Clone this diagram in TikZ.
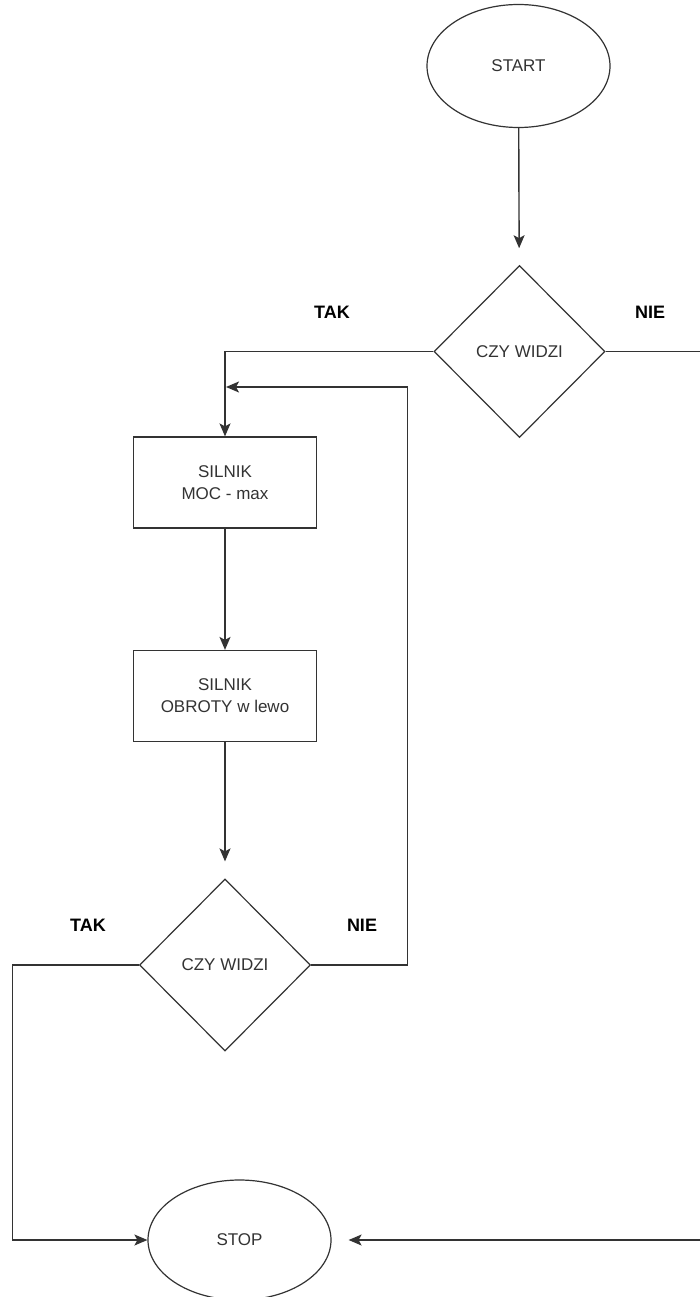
\documentclass[tikz,border=0pt]{standalone}
\usepackage{fontspec}
\setmainfont{Liberation Sans}
\usetikzlibrary{shapes.geometric,arrows.meta}
\definecolor{ink}{HTML}{333333}
\begin{document}
\begin{tikzpicture}[x=1pt,y=-1pt,
  every node/.style={font=\fontsize{17}{22}\selectfont, text=ink},
  term/.style={draw=ink, line width=1.2pt, ellipse, minimum width=183pt, minimum height=123pt, inner sep=0pt},
  procbox/.style={draw=ink, line width=1.2pt, rectangle, minimum width=183pt, minimum height=91pt, align=center, inner sep=0pt},
  decide/.style={draw=ink, line width=1.2pt, diamond, minimum width=171pt, minimum height=172pt, inner sep=0pt},
  lbl/.style={font=\fontsize{18}{22}\selectfont\bfseries, text=black},
  conn/.style={draw=ink, line width=1.4pt},
  arr/.style={conn, -{Stealth[length=13pt,width=11pt,inset=3pt]}}
]
\useasboundingbox (0,0) rectangle (700,1297);
\fill[white] (0,0) rectangle (700,1297);

\node[term] (start) at (518.5,66) {START};
\node[decide] (d1) at (519.5,351.5) {CZY WIDZI};
\node[procbox] (box1) at (225,482.5) {SILNIK\\MOC - max};
\node[procbox] (box2) at (225,696) {SILNIK\\OBROTY w lewo};
\node[decide] (d2) at (225,965) {CZY WIDZI};
\node[term, minimum height=120pt] (stop) at (239.5,1240) {STOP};

\node[lbl] (tak1) at (332,312) {TAK};
\node[lbl] (nie1) at (650,312) {NIE};
\node[lbl] (tak2) at (88,925) {TAK};
\node[lbl] (nie2) at (362,925) {NIE};

\coordinate (c1) at (407.5,965);
\coordinate (c2) at (407.5,387);
\coordinate (c3) at (226,387);
\coordinate (l1) at (12.5,965);
\coordinate (r1) at (704,351.5);
\coordinate (r2) at (704,1240);

\draw[arr, shorten >=17pt] (start) -- (d1);
\draw[arr] (d1.west) -| (box1.north);
\draw[arr] (box1) -- (box2);
\draw[arr, shorten >=17pt] (box2) -- (d2);
\draw[arr] (d2.east) -- (c1) -- (c2) -- (c3);
\draw[arr] (d2.west) -- (l1) |- (stop.west);
\draw[arr, shorten >=17pt] (d1.east) -- (r1) -- (r2) -- (stop.east);
\end{tikzpicture}
\end{document}
